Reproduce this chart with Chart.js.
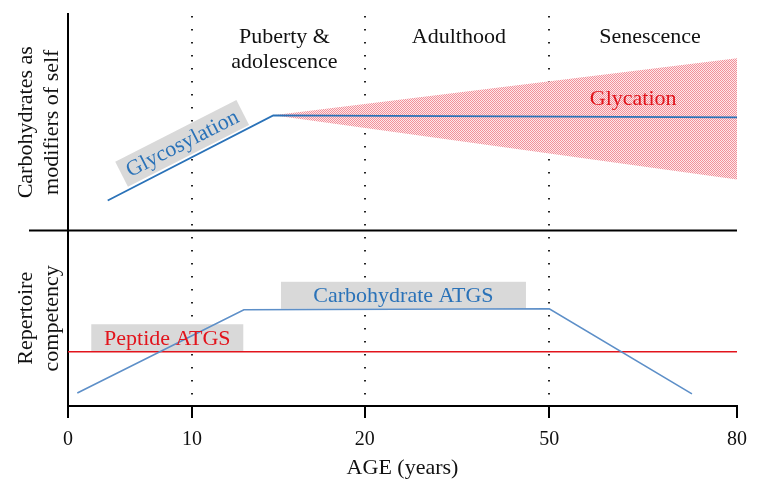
<!DOCTYPE html>
<html>
<head>
<meta charset="utf-8">
<script src="https://cdn.jsdelivr.net/npm/chart.js@4"></script>
<style>
  html, body { margin: 0; padding: 0; background: #fff; }
  #wrap { width: 761px; height: 496px; }
</style>
</head>
<body>
<div id="wrap"><canvas id="grafico"></canvas></div>
<script>
// ages shown on the axis and where they sit on the (non linear) axis
const tickAges = [0, 10, 20, 50, 80];
const tickLabels = ['0', '10', '20', '50', '80'];
const tickPos = [0, 1.855, 4.435, 7.194, 10];
const stageAges = [10, 20, 50];

// top panel: carbohydrates as modifiers of self
const glycosylationAge = [3.2, 14.7, 80];
const glycosylationVal = [1.39, 5.32, 5.23];
const glycationAge = [14.7, 80];
const glycationUpper = [5.32, 7.96];
const glycationLower = [5.32, 2.36];

// bottom panel: repertoire competency
const carbAtgsAge = [0.75, 13.0, 50, 72.8];
const carbAtgsVal = [0.74, 5.49, 5.54, 0.69];
const peptideAge = [0, 80];
const peptideVal = [3.09, 3.09];

const SERIF = '"Liberation Serif", "DejaVu Serif", serif';
const BLUE = '#2a72b8';
const BLUE2 = '#5d8fc8';
const RED = '#e2141c';

function agePos(age) {
    for (let i = 1; i < tickAges.length; i++) {
        if (age <= tickAges[i]) {
            const t = (age - tickAges[i - 1]) / (tickAges[i] - tickAges[i - 1]);
            return tickPos[i - 1] + t * (tickPos[i] - tickPos[i - 1]);
        }
    }
    return tickPos[tickPos.length - 1];
}

function pts(ages, vals) {
    return ages.map((a, i) => ({ x: agePos(a), y: vals[i] }));
}

// checker pattern for the glycation fan
const pc = document.createElement('canvas');
pc.width = 2; pc.height = 2;
const pctx = pc.getContext('2d');
pctx.fillStyle = '#fde8ea';
pctx.fillRect(0, 0, 2, 2);
pctx.fillStyle = '#f2909a';
pctx.fillRect(0, 0, 1, 1);
pctx.fillRect(1, 1, 1, 1);

const ctx = document.getElementById('grafico').getContext('2d');
const hatch = ctx.createPattern(pc, 'repeat');

// text labels: [text, age, y, axis, color, boxWidth or 0]
const labels = [
    ['Glycation', 63.4, 6.11, 'yTop', RED, 88],
    ['Carbohydrate ATGS', 26.3, 6.31, 'yBot', BLUE, 245],
    ['Peptide ATGS', 8.0, 3.89, 'yBot', RED, 152],
    ['Puberty &', 15.35, 8.98, 'yTop', '#111', 0],
    ['adolescence', 15.35, 7.82, 'yTop', '#111', 0],
    ['Adulthood', 35.3, 8.98, 'yTop', '#111', 0],
    ['Senescence', 66.1, 8.98, 'yTop', '#111', 0]
];

const overlay = {
    id: 'overlay',
    beforeDatasetsDraw(chart) {
        const c = chart.ctx, x = chart.scales.x, area = chart.chartArea;
        c.save();
        // dotted stage boundaries
        c.strokeStyle = '#222';
        c.lineWidth = 2;
        c.setLineDash([1.6, 11.4]);
        stageAges.forEach(a => {
            const px = Math.round(x.getPixelForValue(agePos(a)));
            c.beginPath();
            c.moveTo(px, area.top + 2);
            c.lineTo(px, area.bottom);
            c.stroke();
        });
        c.setLineDash([]);
        // grey boxes under the lines
        labels.forEach(l => {
            if (!l[5]) return;
            const cx = x.getPixelForValue(agePos(l[1]));
            const cy = chart.scales[l[3]].getPixelForValue(l[2]);
            c.fillStyle = '#d9d9d9';
            c.fillRect(cx - l[5] / 2, cy - 13.5, l[5], 27);
        });
        // rotated glycosylation box
        const gx = x.getPixelForValue(agePos(9.2));
        const gy = chart.scales.yTop.getPixelForValue(4.03);
        c.translate(gx, gy);
        c.rotate(-27 * Math.PI / 180);
        c.fillStyle = '#d9d9d9';
        c.fillRect(-68, -14, 136, 28);
        c.restore();
    },
    afterDatasetsDraw(chart) {
        const c = chart.ctx, x = chart.scales.x, area = chart.chartArea;
        c.save();
        // divider between the two panels
        const dy = chart.scales.yTop.bottom;
        c.strokeStyle = '#000';
        c.lineWidth = 2;
        c.beginPath();
        c.moveTo(29, dy);
        c.lineTo(area.right, dy);
        c.stroke();
        c.textAlign = 'center';
        c.textBaseline = 'middle';
        c.font = '22px ' + SERIF;
        labels.forEach(l => {
            const cx = x.getPixelForValue(agePos(l[1]));
            const cy = chart.scales[l[3]].getPixelForValue(l[2]);
            c.fillStyle = l[4];
            c.fillText(l[0], cx, cy + 1);
        });
        const gx = x.getPixelForValue(agePos(9.2));
        const gy = chart.scales.yTop.getPixelForValue(4.03);
        c.translate(gx, gy);
        c.rotate(-27 * Math.PI / 180);
        c.fillStyle = BLUE;
        c.fillText('Glycosylation', 0, 1);
        c.restore();
    }
};

const yCommon = {
    type: 'linear',
    position: 'left',
    stack: 'panels',
    min: 0,
    max: 10,
    ticks: { display: false },
    grid: { display: false },
    border: { display: true, color: '#000', width: 2 },
    afterFit: s => { s.width = 68; }
};

const config = {
    type: 'line',
    data: {
        datasets: [
            {
                label: 'Glycosylation',
                data: pts(glycosylationAge, glycosylationVal),
                yAxisID: 'yTop',
                borderColor: BLUE,
                borderWidth: 1.8,
                order: 0
            },
            {
                label: 'Glycation',
                data: pts(glycationAge, glycationUpper),
                yAxisID: 'yTop',
                borderWidth: 0,
                backgroundColor: hatch,
                fill: '+1',
                order: 1
            },
            {
                label: 'Glycation lower',
                data: pts(glycationAge, glycationLower),
                yAxisID: 'yTop',
                borderWidth: 0,
                fill: false,
                order: 1
            },
            {
                label: 'Carbohydrate ATGS',
                data: pts(carbAtgsAge, carbAtgsVal),
                yAxisID: 'yBot',
                borderColor: BLUE2,
                borderWidth: 1.6,
                order: 0
            },
            {
                label: 'Peptide ATGS',
                data: pts(peptideAge, peptideVal),
                yAxisID: 'yBot',
                borderColor: RED,
                borderWidth: 1.6,
                order: 0
            }
        ]
    },
    options: {
        responsive: true,
        maintainAspectRatio: false,
        animation: false,
        events: [],
        elements: { point: { radius: 0 }, line: { tension: 0 } },
        layout: { padding: { top: 14, right: 24, left: 0, bottom: 17 } },
        plugins: { legend: { display: false }, tooltip: { enabled: false } },
        scales: {
            x: {
                type: 'linear',
                min: 0,
                max: 10,
                afterBuildTicks: s => { s.ticks = tickPos.map(v => ({ value: v })); },
                ticks: {
                    autoSkip: false,
                    color: '#111',
                    font: { family: SERIF, size: 20, lineHeight: 1 },
                    padding: 12,
                    callback: (v, i) => tickLabels[i]
                },
                grid: { drawOnChartArea: false, drawTicks: true, tickLength: 12, color: '#000', lineWidth: 2 },
                border: { display: true, color: '#000', width: 2 },
                title: {
                    display: true,
                    text: 'AGE (years)',
                    color: '#111',
                    font: { family: SERIF, size: 22, lineHeight: 1 },
                    padding: { top: -5, bottom: 0 }
                }
            },
            yBot: Object.assign({}, yCommon, {
                stackWeight: 175,
                title: {
                    display: true,
                    text: ['Repertoire', 'competency'],
                    color: '#111',
                    font: { family: SERIF, size: 22, lineHeight: 1.15 },
                    padding: { top: 14, bottom: 0 }
                }
            }),
            yTop: Object.assign({}, yCommon, {
                stackWeight: 216,
                title: {
                    display: true,
                    text: ['Carbohydrates as', 'modifiers of self'],
                    color: '#111',
                    font: { family: SERIF, size: 22, lineHeight: 1.15 },
                    padding: { top: 14, bottom: 0 }
                }
            })
        }
    },
    plugins: [overlay]
};

const grafico = new Chart(ctx, config);
</script>
</body>
</html>
